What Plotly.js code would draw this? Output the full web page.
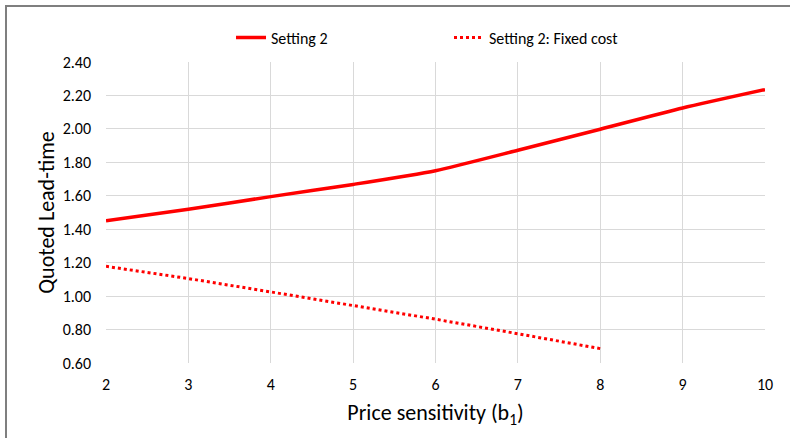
<!DOCTYPE html>
<html><head><meta charset="utf-8">
<script src="https://cdn.plot.ly/plotly-3.0.1.min.js"></script>
<style>
html,body{margin:0;padding:0;background:#fff;}
#wrap{position:relative;width:790px;height:438px;overflow:hidden;}
#chart{position:absolute;left:0;top:0;width:790px;height:438px;}
#frame{position:absolute;left:5px;top:5px;width:900px;height:600px;border-left:2px solid #7f7f7f;border-top:2px solid #7f7f7f;pointer-events:none;}
</style></head>
<body><div id="wrap"><div id="chart"></div><div id="frame"></div></div>
<script>
const xSetting2 = [2,3,4,5,6,7,8,9,10];
const ySetting2 = [1.45,1.52,1.595,1.668,1.75,1.872,1.998,2.125,2.235];
const xFixed = [2,3,4,5,6,7,8];
const yFixed = [1.178,1.105,1.025,0.943,0.862,0.775,0.686];
const seriesNames = ["Setting 2","Setting 2: Fixed cost"];
const xTicks = [2,3,4,5,6,7,8,9,10];
const yTicks = [0.6,0.8,1.0,1.2,1.4,1.6,1.8,2.0,2.2,2.4];
const yTickText = yTicks.map(v=>v.toFixed(2));
const FONT = '"Carlito","Liberation Sans Narrow","Liberation Sans",sans-serif';

const traces = [
 {x:xSetting2,y:ySetting2,name:seriesNames[0],mode:'lines',legend:'legend',
  line:{color:'#ff0000',width:3.5,shape:'spline',smoothing:0.6}},
 {x:xFixed,y:yFixed,name:seriesNames[1],mode:'lines',legend:'legend2',
  line:{color:'#ff0000',width:3,dash:'dot'}}
];
const legFont = {family:FONT,size:16,color:'#000'};
const layout = {
 width:790,height:438,
 margin:{l:106,r:25,t:61.5,b:74.5},
 paper_bgcolor:'rgba(0,0,0,0)',plot_bgcolor:'rgba(0,0,0,0)',
 font:{family:FONT,size:16,color:'#000'},
 showlegend:true,
 legend:{orientation:'h',x:0.1897,xanchor:'left',y:1.081,yanchor:'middle',
   font:legFont,bgcolor:'rgba(0,0,0,0)'},
 legend2:{orientation:'h',x:0.5205,xanchor:'left',y:1.081,yanchor:'middle',
   font:legFont,bgcolor:'rgba(0,0,0,0)'},
 xaxis:{range:[2,10],tickvals:xTicks,showgrid:true,gridcolor:'#d9d9d9',gridwidth:1,
   zeroline:false,showline:false,ticks:'',ticklabelstandoff:10,
   tickfont:{family:FONT,size:16},
   title:{text:'Price sensitivity (b<sub>1</sub>)',font:{family:FONT,size:22},standoff:11}},
 yaxis:{range:[0.6,2.4],tickvals:yTicks,ticktext:yTickText,showgrid:true,gridcolor:'#d9d9d9',gridwidth:1,
   zeroline:false,showline:false,ticks:'',ticklabelstandoff:14,
   tickfont:{family:FONT,size:16},
   title:{text:'Quoted Lead-time',font:{family:FONT,size:22},standoff:1}}
};
Plotly.newPlot('chart',traces,layout,{displayModeBar:false,staticPlot:true});
</script></body></html>
